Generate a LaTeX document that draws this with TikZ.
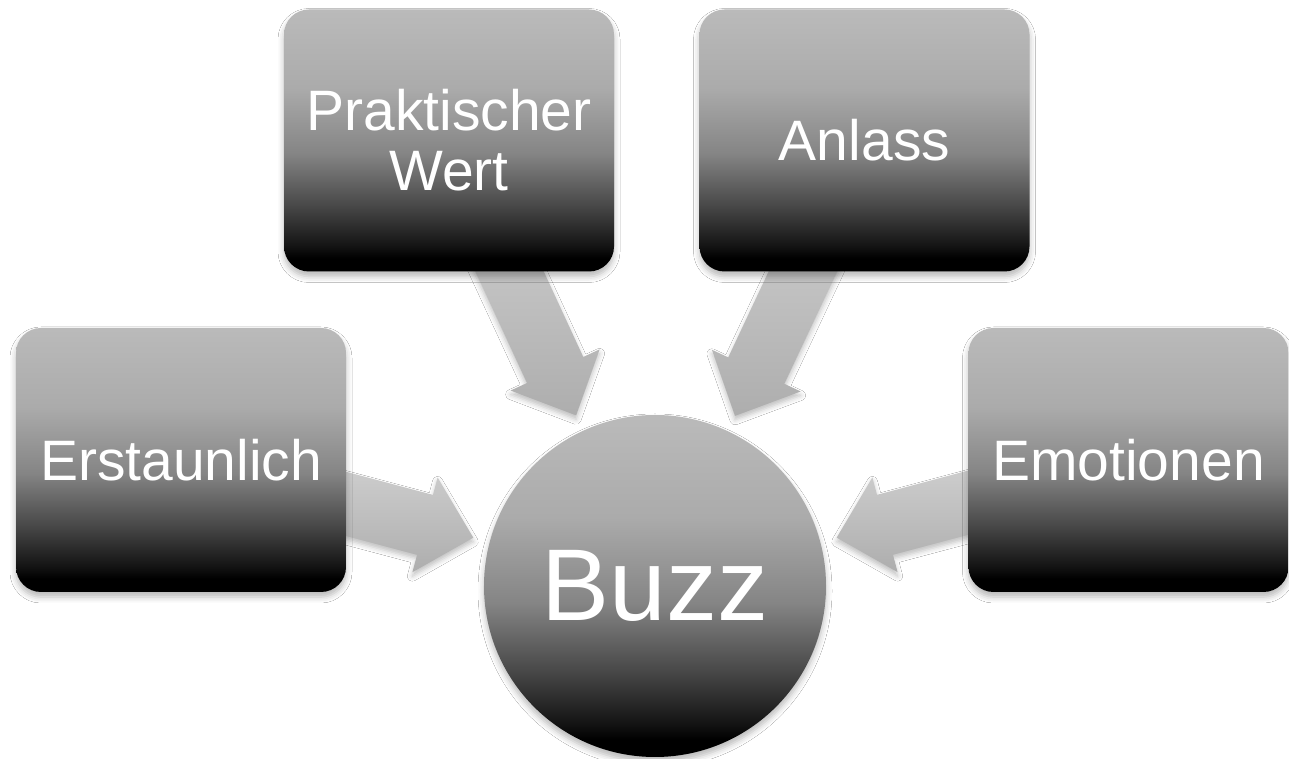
\documentclass[tikz,border=0pt]{standalone}
\usepackage{fontspec}
\setsansfont{Liberation Sans}
\usetikzlibrary{calc}
\usetikzlibrary{backgrounds}
\usetikzlibrary{shadows.blur}

\pgfdeclareverticalshading{buzzShade}{100bp}{color(0bp)=(black); color(27.5bp)=(black); color(30bp)=(black!92); color(37.5bp)=(black!72); color(47.5bp)=(black!48); color(60bp)=(black!33); color(75bp)=(black!27); color(100bp)=(black!27)}

% block arrow from a box towards the circle
\newcommand{\buzzArrow}[2]{%
	\coordinate (tip) at ($(#2.center)!188pt!(#1.center)$);
	\coordinate (neck) at ($(tip)!50pt!(#1.center)$);
	\shade[arrowStyle] ($(#1.center)!31pt!90:(tip)$) -- ($(neck)!31pt!-90:(#1.center)$) -- ($(neck)!49pt!-90:(#1.center)$) -- (tip) -- ($(neck)!49pt!90:(#1.center)$) -- ($(neck)!31pt!90:(#1.center)$) -- ($(#1.center)!31pt!-90:(tip)$) -- cycle;}

\begin{document}
\begin{tikzpicture}[x = 1pt, y = 1pt, font=\sffamily]
	\tikzstyle{causeStyle}=[shape = rectangle, rounded corners = 25pt, minimum width = 330pt, minimum height = 262pt, inner sep = 0pt, shade, shading = buzzShade, text = white, align = center, font = \sffamily\fontsize{57}{60}\selectfont, blur shadow = {shadow xshift = 0pt, shadow yshift = -5pt, shadow blur radius = 6pt, shadow opacity = 28}]
	\tikzstyle{buzzStyle}=[shape = circle, minimum size = 342pt, inner sep = 0pt, shade, shading = buzzShade, text = white, font = \sffamily\fontsize{102}{110}\selectfont, blur shadow = {shadow xshift = 0pt, shadow yshift = -5pt, shadow blur radius = 6pt, shadow opacity = 28}]
	\tikzstyle{arrowStyle}=[top color = black!15, bottom color = black!32, blur shadow = {shadow xshift = 0pt, shadow yshift = -4pt, shadow blur radius = 5pt, shadow opacity = 25}]
	\useasboundingbox (0,0) rectangle (1289,759);
	\node[causeStyle] (prakt) at (449,618.5) {Praktischer\\Wert};
	\node[causeStyle] (anlass) at (864.5,618.5) {Anlass};
	\node[causeStyle, minimum height = 264pt] (erst) at (181,299) {Erstaunlich};
	\node[causeStyle, minimum width = 320pt, minimum height = 264pt] (emot) at (1128.5,299) {Emotionen};
	\node[buzzStyle] (buzz) at (655,173) {Buzz};
	\begin{scope}[on background layer]
		\fill[white] (0,0) rectangle (1289,759);
		\buzzArrow{erst}{buzz}
		\buzzArrow{prakt}{buzz}
		\buzzArrow{anlass}{buzz}
		\buzzArrow{emot}{buzz}
	\end{scope}
\end{tikzpicture}
\end{document}
